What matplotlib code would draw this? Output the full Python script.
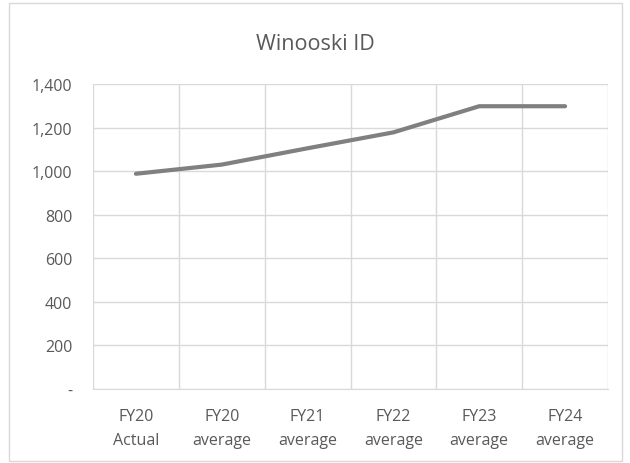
import matplotlib
matplotlib.use("Agg")
import matplotlib.pyplot as plt
from matplotlib.patches import Rectangle
from matplotlib.ticker import FuncFormatter

categories = ["FY20\nActual", "FY20\naverage", "FY21\naverage", "FY22\naverage", "FY23\naverage", "FY24\naverage"]
values = [988, 1030, 1105, 1178, 1298, 1298]
yticks = [0, 200, 400, 600, 800, 1000, 1200, 1400]

plt.rcParams['font.family'] = ['Open Sans', 'DejaVu Sans']
W, H = 630, 464
fig = plt.figure(figsize=(W/100, H/100), dpi=100)
fig.patches.append(Rectangle((9/W, 1-462/H), (622-9)/W, (462-4)/H, transform=fig.transFigure,
                             fill=False, edgecolor='#D9D9D9', linewidth=1))
ax = fig.add_axes([93/W, 1-390/H, (608-93)/W, (390-85)/H])
x = list(range(len(categories)))
ax.plot(x, values, color='#808080', linewidth=3, solid_capstyle='round', solid_joinstyle='round')
ax.set_xlim(-0.5, len(categories)-0.5)
ax.set_ylim(0, 1400)
ax.set_yticks(yticks)
ax.yaxis.set_major_formatter(FuncFormatter(lambda v, p: "-" if v == 0 else f"{int(v):,}"))
ax.set_xticks(x)
ax.set_xticklabels(categories)
ax.set_xticks([i - 0.5 for i in range(len(categories)+1)], minor=True)
ax.grid(False)
ax.yaxis.grid(True, color='#D9D9D9', linewidth=1)
ax.xaxis.grid(True, which='minor', color='#D9D9D9', linewidth=1)
for s in ['top', 'right', 'left']:
    ax.spines[s].set_visible(False)
ax.spines['bottom'].set_color('#D9D9D9')
ax.tick_params(axis='both', which='both', length=0, labelsize=11.5, colors='#595959')
ax.tick_params(axis='y', pad=15)
ax.tick_params(axis='x', pad=14)
for lbl in ax.get_xticklabels():
    lbl.set_linespacing(1.6)
fig.text(0.5, 1-45/H, "Winooski ID", ha='center', va='center', fontsize=15.5, color='#595959')
fig.savefig("out.png", dpi=100)
